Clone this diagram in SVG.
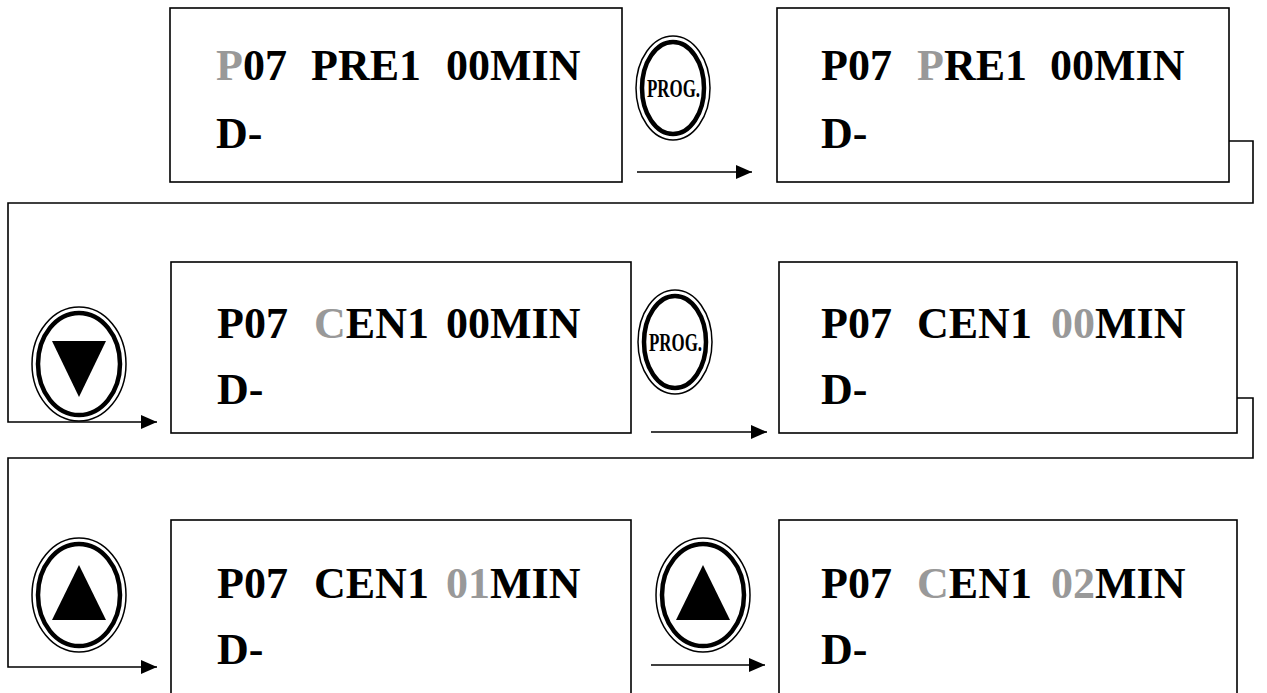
<svg xmlns="http://www.w3.org/2000/svg" width="1267" height="693" viewBox="0 0 1267 693">
<defs>
<style>
.box{fill:#fff;stroke:#000;stroke-width:1.6}
.t{font-family:"Liberation Serif","Times New Roman",serif;font-weight:bold;font-size:44px;fill:#000}
.g{fill:#999}
.pt{font-family:"Liberation Serif","Times New Roman",serif;font-weight:bold;font-size:25px;fill:#000}
.o{fill:none;stroke:#000;stroke-width:1.5}
.i{fill:none;stroke:#000;stroke-width:4.5}
.c{fill:none;stroke:#000;stroke-width:1.6}
</style>
<marker id="ah2" viewBox="0 0 16 14" refX="16" refY="7" markerWidth="16" markerHeight="14" markerUnits="userSpaceOnUse" orient="auto"><path d="M0,0L16,7L0,14Z" fill="#000"/></marker>
</defs>
<rect width="1267" height="693" fill="#fff"/>

<g id="connectors">
<path class="c" d="M637,172H752" marker-end="url(#ah2)"/>
<path class="c" d="M1229,141H1253V203H8V422H157" marker-end="url(#ah2)"/>
<path class="c" d="M651,432H767" marker-end="url(#ah2)"/>
<path class="c" d="M1237,398H1253V458H8V667H157" marker-end="url(#ah2)"/>
<path class="c" d="M651,665H765" marker-end="url(#ah2)"/>
</g>

<g id="screen1">
<rect class="box" x="170" y="8" width="452" height="174"/>
<text class="t" y="80"><tspan x="216" class="g">P</tspan><tspan>07</tspan><tspan x="311">PRE1</tspan><tspan x="446">00MIN</tspan></text>
<text class="t" x="216" y="148">D-</text>
</g>

<g id="prog1">
<ellipse class="o" cx="673" cy="88" rx="37" ry="52"/>
<ellipse class="i" cx="673" cy="88" rx="31" ry="46"/>
<text class="pt" x="647" y="97" textLength="53" lengthAdjust="spacingAndGlyphs">PROG.</text>
</g>

<g id="screen2">
<rect class="box" x="777" y="8" width="452" height="174"/>
<text class="t" y="80"><tspan x="821">P07</tspan><tspan x="917" class="g">P</tspan><tspan>RE1</tspan><tspan x="1050">00MIN</tspan></text>
<text class="t" x="821" y="148">D-</text>
</g>

<g id="down1">
<ellipse class="o" cx="79" cy="364" rx="47" ry="57"/>
<ellipse class="i" cx="79" cy="364" rx="41" ry="51"/>
<path d="M52,341H106L79,397Z" fill="#000"/>
</g>

<g id="screen3">
<rect class="box" x="171" y="262" width="460" height="171"/>
<text class="t" y="338"><tspan x="217">P07</tspan><tspan x="314" class="g">C</tspan><tspan>EN1</tspan><tspan x="446">00MIN</tspan></text>
<text class="t" x="217" y="404">D-</text>
</g>

<g id="prog2">
<ellipse class="o" cx="675" cy="342" rx="37" ry="52"/>
<ellipse class="i" cx="675" cy="342" rx="31" ry="46"/>
<text class="pt" x="649" y="351" textLength="53" lengthAdjust="spacingAndGlyphs">PROG.</text>
</g>

<g id="screen4">
<rect class="box" x="779" y="262" width="458" height="171"/>
<text class="t" y="338"><tspan x="821">P07</tspan><tspan x="917">CEN1</tspan><tspan x="1051" class="g">00</tspan><tspan>MIN</tspan></text>
<text class="t" x="821" y="404">D-</text>
</g>

<g id="up1">
<ellipse class="o" cx="79" cy="595" rx="47" ry="57"/>
<ellipse class="i" cx="79" cy="595" rx="41" ry="51"/>
<path d="M79,565L106,620H52Z" fill="#000"/>
</g>

<g id="screen5">
<rect class="box" x="171" y="520" width="460" height="190"/>
<text class="t" y="598"><tspan x="217">P07</tspan><tspan x="314">CEN1</tspan><tspan x="446" class="g">01</tspan><tspan>MIN</tspan></text>
<text class="t" x="217" y="664">D-</text>
</g>

<g id="up2">
<ellipse class="o" cx="703" cy="595" rx="47" ry="57"/>
<ellipse class="i" cx="703" cy="595" rx="41" ry="51"/>
<path d="M703,565L730,620H676Z" fill="#000"/>
</g>

<g id="screen6">
<rect class="box" x="779" y="520" width="458" height="190"/>
<text class="t" y="598"><tspan x="821">P07</tspan><tspan x="917" class="g">C</tspan><tspan>EN1</tspan><tspan x="1051" class="g">02</tspan><tspan>MIN</tspan></text>
<text class="t" x="821" y="664">D-</text>
</g>
</svg>
